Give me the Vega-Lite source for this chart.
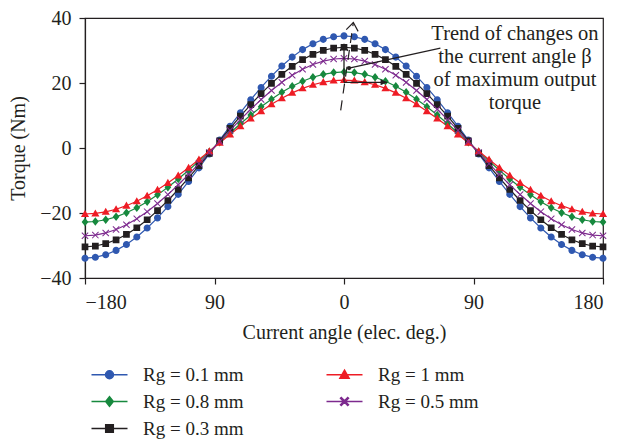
{
  "$schema": "https://vega.github.io/schema/vega-lite/v6.json",
  "width": 518,
  "height": 260,
  "autosize": {"type": "none"},
  "padding": {"left": 85, "top": 18, "right": 18, "bottom": 165},
  "background": "white",
  "config": {
    "font": "Liberation Serif",
    "view": {"stroke": "#231f20", "strokeWidth": 1.2},
    "axis": {
      "grid": false,
      "domainColor": "#231f20",
      "domainWidth": 1.2,
      "tickColor": "#231f20",
      "tickWidth": 1.2,
      "tickSize": 6,
      "labelFont": "Liberation Serif",
      "labelFontSize": 20,
      "labelColor": "#231f20",
      "labelPadding": 8,
      "titleFont": "Liberation Serif",
      "titleFontSize": 20,
      "titleFontWeight": "normal",
      "titleColor": "#231f20"
    }
  },
  "datasets": {
    "curves": [
      {"x": -180, "a": -33.9, "b": -22.8, "c": -30.4, "d": -20.3, "e": -27.0},
      {"x": -172.8, "a": -33.63, "b": -22.62, "c": -30.16, "d": -20.14, "e": -26.79},
      {"x": -165.6, "a": -32.83, "b": -22.07, "c": -29.44, "d": -19.65, "e": -26.14},
      {"x": -158.4, "a": -31.5, "b": -21.18, "c": -28.24, "d": -18.85, "e": -25.08},
      {"x": -151.2, "a": -29.67, "b": -19.94, "c": -26.6, "d": -17.75, "e": -23.62},
      {"x": -144, "a": -27.37, "b": -18.39, "c": -24.54, "d": -16.37, "e": -21.79},
      {"x": -136.8, "a": -24.63, "b": -16.54, "c": -22.08, "d": -14.72, "e": -19.6},
      {"x": -129.6, "a": -21.5, "b": -14.42, "c": -19.27, "d": -12.83, "e": -17.1},
      {"x": -122.4, "a": -18.03, "b": -12.08, "c": -16.15, "d": -10.74, "e": -14.33},
      {"x": -115.2, "a": -14.26, "b": -9.54, "c": -12.77, "d": -8.47, "e": -11.32},
      {"x": -108, "a": -10.27, "b": -6.84, "c": -9.19, "d": -6.07, "e": -8.14},
      {"x": -100.8, "a": -6.11, "b": -4.03, "c": -5.45, "d": -3.56, "e": -4.82},
      {"x": -93.6, "a": -1.85, "b": -1.15, "c": -1.63, "d": -0.99, "e": -1.41},
      {"x": -86.4, "a": 2.45, "b": 1.75, "c": 2.23, "d": 1.59, "e": 2.01},
      {"x": -79.2, "a": 6.71, "b": 4.63, "c": 6.05, "d": 4.16, "e": 5.42},
      {"x": -72, "a": 10.87, "b": 7.44, "c": 9.79, "d": 6.67, "e": 8.74},
      {"x": -64.8, "a": 14.86, "b": 10.14, "c": 13.37, "d": 9.07, "e": 11.92},
      {"x": -57.6, "a": 18.63, "b": 12.68, "c": 16.75, "d": 11.34, "e": 14.93},
      {"x": -50.4, "a": 22.1, "b": 15.02, "c": 19.87, "d": 13.43, "e": 17.7},
      {"x": -43.2, "a": 25.23, "b": 17.14, "c": 22.68, "d": 15.32, "e": 20.2},
      {"x": -36, "a": 27.97, "b": 18.99, "c": 25.14, "d": 16.97, "e": 22.39},
      {"x": -28.8, "a": 30.27, "b": 20.54, "c": 27.2, "d": 18.35, "e": 24.22},
      {"x": -21.6, "a": 32.1, "b": 21.78, "c": 28.84, "d": 19.45, "e": 25.68},
      {"x": -14.4, "a": 33.43, "b": 22.67, "c": 30.04, "d": 20.25, "e": 26.74},
      {"x": -7.2, "a": 34.23, "b": 23.22, "c": 30.76, "d": 20.74, "e": 27.39},
      {"x": 0, "a": 34.5, "b": 23.4, "c": 31.0, "d": 20.9, "e": 27.6},
      {"x": 7.2, "a": 34.23, "b": 23.22, "c": 30.76, "d": 20.74, "e": 27.39},
      {"x": 14.4, "a": 33.43, "b": 22.67, "c": 30.04, "d": 20.25, "e": 26.74},
      {"x": 21.6, "a": 32.1, "b": 21.78, "c": 28.84, "d": 19.45, "e": 25.68},
      {"x": 28.8, "a": 30.27, "b": 20.54, "c": 27.2, "d": 18.35, "e": 24.22},
      {"x": 36, "a": 27.97, "b": 18.99, "c": 25.14, "d": 16.97, "e": 22.39},
      {"x": 43.2, "a": 25.23, "b": 17.14, "c": 22.68, "d": 15.32, "e": 20.2},
      {"x": 50.4, "a": 22.1, "b": 15.02, "c": 19.87, "d": 13.43, "e": 17.7},
      {"x": 57.6, "a": 18.63, "b": 12.68, "c": 16.75, "d": 11.34, "e": 14.93},
      {"x": 64.8, "a": 14.86, "b": 10.14, "c": 13.37, "d": 9.07, "e": 11.92},
      {"x": 72, "a": 10.87, "b": 7.44, "c": 9.79, "d": 6.67, "e": 8.74},
      {"x": 79.2, "a": 6.71, "b": 4.63, "c": 6.05, "d": 4.16, "e": 5.42},
      {"x": 86.4, "a": 2.45, "b": 1.75, "c": 2.23, "d": 1.59, "e": 2.01},
      {"x": 93.6, "a": -1.85, "b": -1.15, "c": -1.63, "d": -0.99, "e": -1.41},
      {"x": 100.8, "a": -6.11, "b": -4.03, "c": -5.45, "d": -3.56, "e": -4.82},
      {"x": 108, "a": -10.27, "b": -6.84, "c": -9.19, "d": -6.07, "e": -8.14},
      {"x": 115.2, "a": -14.26, "b": -9.54, "c": -12.77, "d": -8.47, "e": -11.32},
      {"x": 122.4, "a": -18.03, "b": -12.08, "c": -16.15, "d": -10.74, "e": -14.33},
      {"x": 129.6, "a": -21.5, "b": -14.42, "c": -19.27, "d": -12.83, "e": -17.1},
      {"x": 136.8, "a": -24.63, "b": -16.54, "c": -22.08, "d": -14.72, "e": -19.6},
      {"x": 144, "a": -27.37, "b": -18.39, "c": -24.54, "d": -16.37, "e": -21.79},
      {"x": 151.2, "a": -29.67, "b": -19.94, "c": -26.6, "d": -17.75, "e": -23.62},
      {"x": 158.4, "a": -31.5, "b": -21.18, "c": -28.24, "d": -18.85, "e": -25.08},
      {"x": 165.6, "a": -32.83, "b": -22.07, "c": -29.44, "d": -19.65, "e": -26.14},
      {"x": 172.8, "a": -33.63, "b": -22.62, "c": -30.16, "d": -20.14, "e": -26.79},
      {"x": 180, "a": -33.9, "b": -22.8, "c": -30.4, "d": -20.3, "e": -27.0}
    ],
    "dash": [{"x": -2.3, "torque": 11.6, "x2": 6.5, "y2": 38.6}],
    "solid": [
      {"x": 0, "torque": 20.2, "x2": 0, "y2": 31.9},
      {"x": 0, "torque": 20.2, "x2": 30, "y2": 20.2},
      {"x": 3.5, "torque": 24.6, "x2": 67, "y2": 30.7}
    ],
    "chevBig": [{"x": 6.5, "torque": 38.6}],
    "chevSmall": [{"x": 0, "torque": 31.9}],
    "head": [{"x": 30, "torque": 20.2}],
    "dot": [{"x": 3.5, "torque": 24.6}],
    "note": [{"x": 118.8, "torque": 33.3, "text": "Trend of changes on\nthe current angle β\nof maximum output\ntorque"}]
  },
  "layer": [
    {
      "data": {"name": "curves"},
      "transform": [{"fold": ["a", "b", "c", "d", "e"], "as": ["series", "torque"]}],
      "layer": [
        {
          "mark": {"type": "line", "strokeWidth": 1.2},
          "encoding": {
            "x": {"field": "x", "type": "quantitative", "scale": {"domain": [-180, 180], "nice": false},
                  "axis": {"values": [-180, -90, 0, 90, 180], "labelExpr": "datum.value == -90 ? '90' : datum.label", "title": "Current angle (elec. deg.)", "titlePadding": 10}},
            "y": {"field": "torque", "type": "quantitative", "scale": {"domain": [-40, 40], "nice": false},
                  "axis": {"values": [-40, -20, 0, 20, 40], "title": "Torque (Nm)", "titlePadding": 11}},
            "color": {"field": "series", "type": "nominal",
                      "scale": {"domain": ["a", "b", "c", "d", "e"], "range": ["#2f58b0", "#17893e", "#231f20", "#ee1c25", "#7d2a8e"]}}
          }
        },
        {
          "mark": {"type": "point", "filled": true, "opacity": 1, "size": 50},
          "encoding": {
            "x": {"field": "x", "type": "quantitative"},
            "y": {"field": "torque", "type": "quantitative"},
            "color": {"field": "series", "type": "nominal",
                      "legend": {
                        "title": null, "orient": "none", "legendX": 15, "legendY": 347,
                        "columns": 2, "symbolSize": 64, "labelFont": "Liberation Serif", "labelFontSize": 19,
                        "labelColor": "#231f20", "labelOffset": 24, "rowPadding": 7, "columnPadding": 79,
                        "labelExpr": "datum.value == 'a' ? 'Rg = 0.1 mm' : datum.value == 'b' ? 'Rg = 0.8 mm' : datum.value == 'c' ? 'Rg = 0.3 mm' : datum.value == 'd' ? 'Rg = 1 mm' : 'Rg = 0.5 mm'",
                        "encode": {"symbols": {"update": {"stroke": {"scale": "color", "field": "value"}, "strokeWidth": {"value": 1.2}}}}
                      }},
            "shape": {"field": "series", "type": "nominal",
                      "scale": {"domain": ["a", "b", "c", "d", "e"],
                                "range": [
                                  "M-4.5,0H4.5M-1,0A1,1,0,1,0,1,0A1,1,0,1,0,-1,0Z",
                                  "M-4.5,0H4.5M0,-1.2L0.95,0L0,1.2L-0.95,0Z",
                                  "M-4.5,0H4.5M-0.95,-0.95H0.95V0.95H-0.95Z",
                                  "M-4.5,0H4.5M0,-1.15L1.15,0.85L-1.15,0.85Z",
                                  "M-4.5,0H4.5M-0.8,-1L1,0.8L0.8,1L-1,-0.8ZM-1,0.8L0.8,-1L1,-0.8L-0.8,1Z"
                                ]},
                      "legend": {
                        "title": null, "orient": "none", "legendX": 15, "legendY": 347,
                        "columns": 2, "symbolSize": 64, "labelFont": "Liberation Serif", "labelFontSize": 19,
                        "labelColor": "#231f20", "labelOffset": 24, "rowPadding": 7, "columnPadding": 79,
                        "labelExpr": "datum.value == 'a' ? 'Rg = 0.1 mm' : datum.value == 'b' ? 'Rg = 0.8 mm' : datum.value == 'c' ? 'Rg = 0.3 mm' : datum.value == 'd' ? 'Rg = 1 mm' : 'Rg = 0.5 mm'",
                        "encode": {"symbols": {"update": {"stroke": {"scale": "color", "field": "value"}, "strokeWidth": {"value": 1.2}}}}
                      }}
          }
        }
      ]
    },
    {
      "data": {"name": "dash"},
      "mark": {"type": "rule", "color": "#231f20", "strokeWidth": 1.2, "strokeDash": [10, 7]},
      "encoding": {
        "x": {"field": "x", "type": "quantitative"},
        "y": {"field": "torque", "type": "quantitative"},
        "x2": {"field": "x2"},
        "y2": {"field": "y2"}
      }
    },
    {
      "data": {"name": "solid"},
      "mark": {"type": "rule", "color": "#231f20", "strokeWidth": 1.3},
      "encoding": {
        "x": {"field": "x", "type": "quantitative"},
        "y": {"field": "torque", "type": "quantitative"},
        "x2": {"field": "x2"},
        "y2": {"field": "y2"}
      }
    },
    {
      "data": {"name": "chevBig"},
      "mark": {"type": "point", "shape": "M-1.5,2L0,0L1.5,2", "size": 64, "filled": false, "stroke": "#231f20", "strokeWidth": 1.2, "opacity": 1, "angle": 8.4},
      "encoding": {
        "x": {"field": "x", "type": "quantitative"},
        "y": {"field": "torque", "type": "quantitative"}
      }
    },
    {
      "data": {"name": "chevSmall"},
      "mark": {"type": "point", "shape": "M-1.3,2.2L0,0L1.3,2.2", "size": 36, "filled": false, "stroke": "#231f20", "strokeWidth": 1.2, "opacity": 1},
      "encoding": {
        "x": {"field": "x", "type": "quantitative"},
        "y": {"field": "torque", "type": "quantitative"}
      }
    },
    {
      "data": {"name": "head"},
      "mark": {"type": "point", "shape": "M0,0L-2.2,-1L-2.2,1Z", "size": 36, "filled": true, "color": "#231f20", "opacity": 1},
      "encoding": {
        "x": {"field": "x", "type": "quantitative"},
        "y": {"field": "torque", "type": "quantitative"}
      }
    },
    {
      "data": {"name": "dot"},
      "mark": {"type": "point", "shape": "circle", "size": 18, "filled": true, "color": "#231f20", "opacity": 1},
      "encoding": {
        "x": {"field": "x", "type": "quantitative"},
        "y": {"field": "torque", "type": "quantitative"}
      }
    },
    {
      "data": {"name": "note"},
      "mark": {"type": "text", "font": "Liberation Serif", "fontSize": 20.5, "color": "#231f20", "align": "center", "baseline": "alphabetic", "lineBreak": "\n", "lineHeight": 23},
      "encoding": {
        "x": {"field": "x", "type": "quantitative"},
        "y": {"field": "torque", "type": "quantitative"},
        "text": {"field": "text"}
      }
    }
  ]
}
